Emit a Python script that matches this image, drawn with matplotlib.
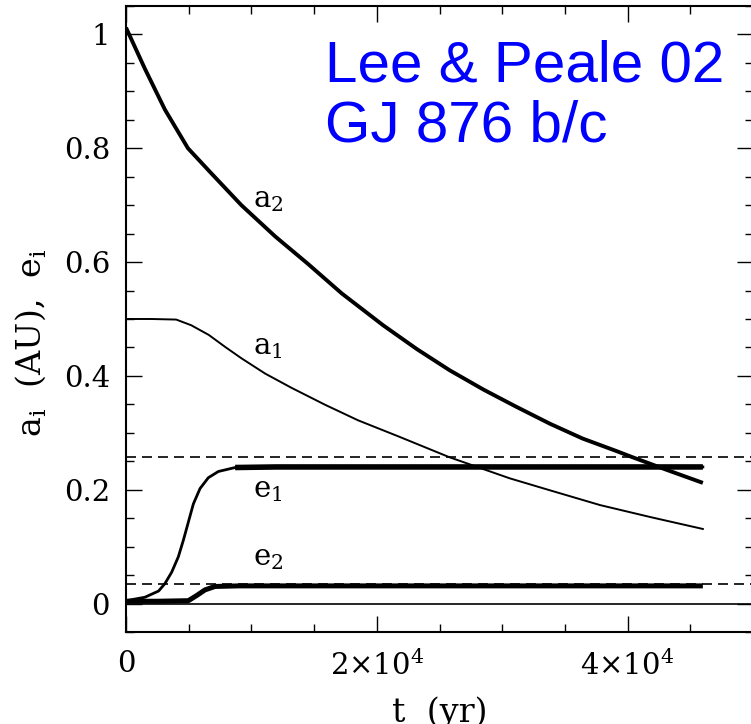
import matplotlib
matplotlib.use("Agg")
import matplotlib.pyplot as plt
from matplotlib.ticker import FixedLocator, MultipleLocator, FixedFormatter

plt.rcParams["font.family"] = ["DejaVu Serif"]
plt.rcParams["mathtext.fontset"] = "dejavuserif"

# Semi-major axes (AU) and eccentricities vs time (yr)
t_a2 = [0, 1500, 3100, 4940, 6800, 9200, 11900, 14500, 17200, 20500,
        23200, 25800, 28500, 31100, 33800, 36400, 39100, 40400, 43100, 46000]
a2 = [1.012, 0.940, 0.868, 0.800, 0.756, 0.700, 0.645, 0.597, 0.545, 0.489,
      0.447, 0.410, 0.376, 0.346, 0.316, 0.290, 0.268, 0.257, 0.235, 0.212]

t_a1 = [0, 2000, 4000, 5200, 6600, 7900, 9200, 11100, 13200, 15900, 18500,
        21800, 25800, 30600, 33800, 37800, 41800, 46000]
a1 = [0.500, 0.500, 0.499, 0.489, 0.472, 0.451, 0.431, 0.404, 0.379, 0.349,
      0.322, 0.293, 0.257, 0.220, 0.199, 0.173, 0.152, 0.131]

t_e1 = [0, 1500, 2600, 3100, 3640, 4170, 4570, 4970, 5370, 5900, 6560,
        7360, 8700, 12000, 20000, 30000, 40000, 46000]
e1 = [0.005, 0.011, 0.022, 0.035, 0.055, 0.082, 0.111, 0.143, 0.175, 0.202,
      0.221, 0.232, 0.239, 0.240, 0.240, 0.240, 0.240, 0.240]

t_e2 = [0, 2500, 4970, 5630, 6300, 7100, 9000, 20000, 46000]
e2 = [0.004, 0.004, 0.005, 0.014, 0.024, 0.030, 0.031, 0.031, 0.031]

# Reference levels (dashed) and curve labels
ref_levels = [0.257, 0.034]
curve_labels = [r"$\mathregular{a_2}$", r"$\mathregular{a_1}$",
                r"$\mathregular{e_1}$", r"$\mathregular{e_2}$"]
label_t = [10100, 10100, 10100, 10100]
label_y = [0.697, 0.438, 0.187, 0.067]

x_major = [0, 20000, 40000]
x_major_labels = [r"$\mathregular{0}$", r"$\mathregular{2{\times}10^4}$",
                  r"$\mathregular{4{\times}10^4}$"]
y_major = [0, 0.2, 0.4, 0.6, 0.8, 1.0]
y_major_labels = ["0", "0.2", "0.4", "0.6", "0.8", "1"]

fig = plt.figure(figsize=(7.51, 7.24), dpi=100)
ax = fig.add_axes([0.1678, 0.1271, 0.8349, 0.8646])

ax.axhline(0, color="black", lw=1.2)
for lvl in ref_levels:
    ax.axhline(lvl, color="black", lw=1.2, dashes=(6, 3.6))

ax.plot(t_a2, a2, color="black", lw=2.8, solid_capstyle="butt")
ax.plot(t_a1, a1, color="black", lw=1.4)
ax.plot(t_e1, e1, color="black", lw=2.0)
plateau = [i for i, t in enumerate(t_e1) if t >= 8700]
ax.plot([t_e1[i] for i in plateau], [e1[i] for i in plateau], color="black", lw=4.0,
        solid_capstyle="butt")
ax.plot(t_e2, e2, color="black", lw=3.6, solid_capstyle="butt")

for s, tx, ty in zip(curve_labels, label_t, label_y):
    ax.text(tx, ty, s, fontsize=21, ha="left", va="baseline")

ax.set_xlim(0, 50000)
ax.set_ylim(-0.05, 1.05)

ax.xaxis.set_major_locator(FixedLocator(x_major))
ax.xaxis.set_major_formatter(FixedFormatter(x_major_labels))
ax.xaxis.set_minor_locator(MultipleLocator(5000))
ax.yaxis.set_major_locator(FixedLocator(y_major))
ax.yaxis.set_major_formatter(FixedFormatter(y_major_labels))
ax.yaxis.set_minor_locator(MultipleLocator(0.05))

ax.tick_params(which="both", direction="in", top=True, right=True, width=1.0)
ax.tick_params(which="major", length=11.5)
ax.tick_params(which="minor", length=5.5)
ax.tick_params(axis="x", which="major", pad=13, labelsize=21)
ax.tick_params(axis="y", which="major", pad=11.5, labelsize=21)

for sp in ax.spines.values():
    sp.set_linewidth(1.5)

ax.set_xlabel(r"t  (yr)", fontsize=24, labelpad=11)
ax.set_ylabel(r"$\mathregular{a_i}$  (AU),  $\mathregular{e_i}$", fontsize=24)
ax.yaxis.set_label_coords(-0.125, 0.463)

fig.text(0.4328, 0.8881, "Lee & Peale 02", color="#0000ff", fontsize=42,
         family="Liberation Sans", ha="left", va="baseline")
fig.text(0.4328, 0.8039, "GJ 876 b/c", color="#0000ff", fontsize=42,
         family="Liberation Sans", ha="left", va="baseline")

fig.savefig("out.png", dpi=100)
